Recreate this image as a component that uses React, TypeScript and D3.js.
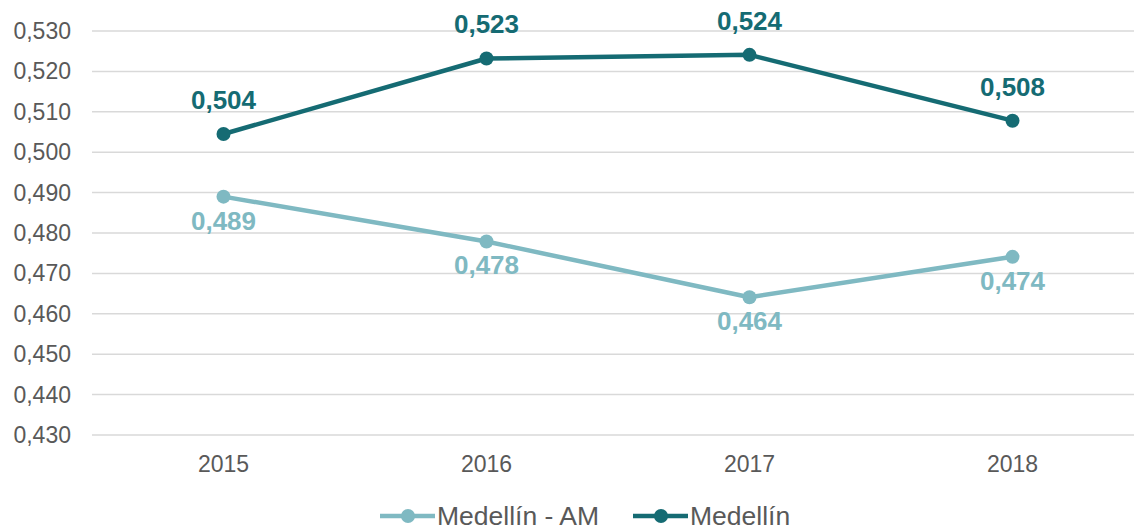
import { useMemo } from 'react';
import * as d3 from 'd3';

const YEARS = ['2015', '2016', '2017', '2018'];
const MEDELLIN = [0.5045, 0.5232, 0.5241, 0.5078];
const MEDELLIN_AM = [0.489, 0.4779, 0.4641, 0.4741];
const MEDELLIN_LABELS = ['0,504', '0,523', '0,524', '0,508'];
const AM_LABELS = ['0,489', '0,478', '0,464', '0,474'];
const Y_TICKS = [0.43, 0.44, 0.45, 0.46, 0.47, 0.48, 0.49, 0.5, 0.51, 0.52, 0.53];

const DARK = '#156b73';
const LIGHT = '#7fb9c2';
const GREY = '#595959';
const FONT = '"Liberation Sans", Arial, sans-serif';

export default function App() {
  const W = 1134, H = 527;
  const left = 92, right = 1144, top = 31, bottom = 435;

  const x = useMemo(() => d3.scaleBand().domain(YEARS).range([left, right]), []);
  const y = useMemo(() => d3.scaleLinear().domain([0.43, 0.53]).range([bottom, top]), []);
  const cx = (d: string) => (x(d) ?? 0) + x.bandwidth() / 2;

  const line = d3.line<number>().x((_, i) => cx(YEARS[i])).y(v => y(v));

  const series = [
    { name: 'Medellín - AM', values: MEDELLIN_AM, labels: AM_LABELS, color: LIGHT, above: false },
    { name: 'Medellín', values: MEDELLIN, labels: MEDELLIN_LABELS, color: DARK, above: true },
  ];

  const legend = [
    { name: 'Medellín - AM', color: LIGHT, x0: 380 },
    { name: 'Medellín', color: DARK, x0: 633 },
  ];

  return (
    <svg width={W} height={H} viewBox={`0 0 ${W} ${H}`}
      style={{ position: 'absolute', left: 0, top: 0, display: 'block', background: '#fff' }}>
      {/* Grid */}
      {Y_TICKS.map(t => (
        <line key={t} x1={left} x2={right} y1={y(t)} y2={y(t)} stroke="#d9d9d9" strokeWidth={1.5} />
      ))}
      {/* Y labels */}
      {Y_TICKS.map(t => (
        <text key={`l${t}`} x={71} y={y(t)} dy="0.35em" textAnchor="end"
          fontFamily={FONT} fontSize={23} fill={GREY}>
          {d3.format('.3f')(t).replace('.', ',')}
        </text>
      ))}
      {/* X labels */}
      {YEARS.map(yr => (
        <text key={yr} x={cx(yr)} y={472} textAnchor="middle" fontFamily={FONT} fontSize={23} fill={GREY}>
          {yr}
        </text>
      ))}
      {/* Series */}
      {series.map(s => (
        <g key={s.name}>
          <path d={line(s.values) ?? ''} fill="none" stroke={s.color} strokeWidth={4.5} strokeLinejoin="round" />
          {s.values.map((v, i) => (
            <circle key={i} cx={cx(YEARS[i])} cy={y(v)} r={7} fill={s.color} />
          ))}
          {s.values.map((v, i) => (
            <text key={`t${i}`} x={cx(YEARS[i])} y={y(v) + (s.above ? -25 : 33)} textAnchor="middle"
              fontFamily={FONT} fontSize={26} fontWeight="bold" fill={s.color}>
              {s.labels[i]}
            </text>
          ))}
        </g>
      ))}
      {/* Legend */}
      {legend.map(l => (
        <g key={l.name}>
          <line x1={l.x0} x2={l.x0 + 55} y1={516} y2={516} stroke={l.color} strokeWidth={4.5} />
          <circle cx={l.x0 + 28} cy={516} r={7} fill={l.color} />
          <text x={l.x0 + 57} y={525} fontFamily={FONT} fontSize={26.5} fill={GREY}>
            {l.name}
          </text>
        </g>
      ))}
    </svg>
  );
}
